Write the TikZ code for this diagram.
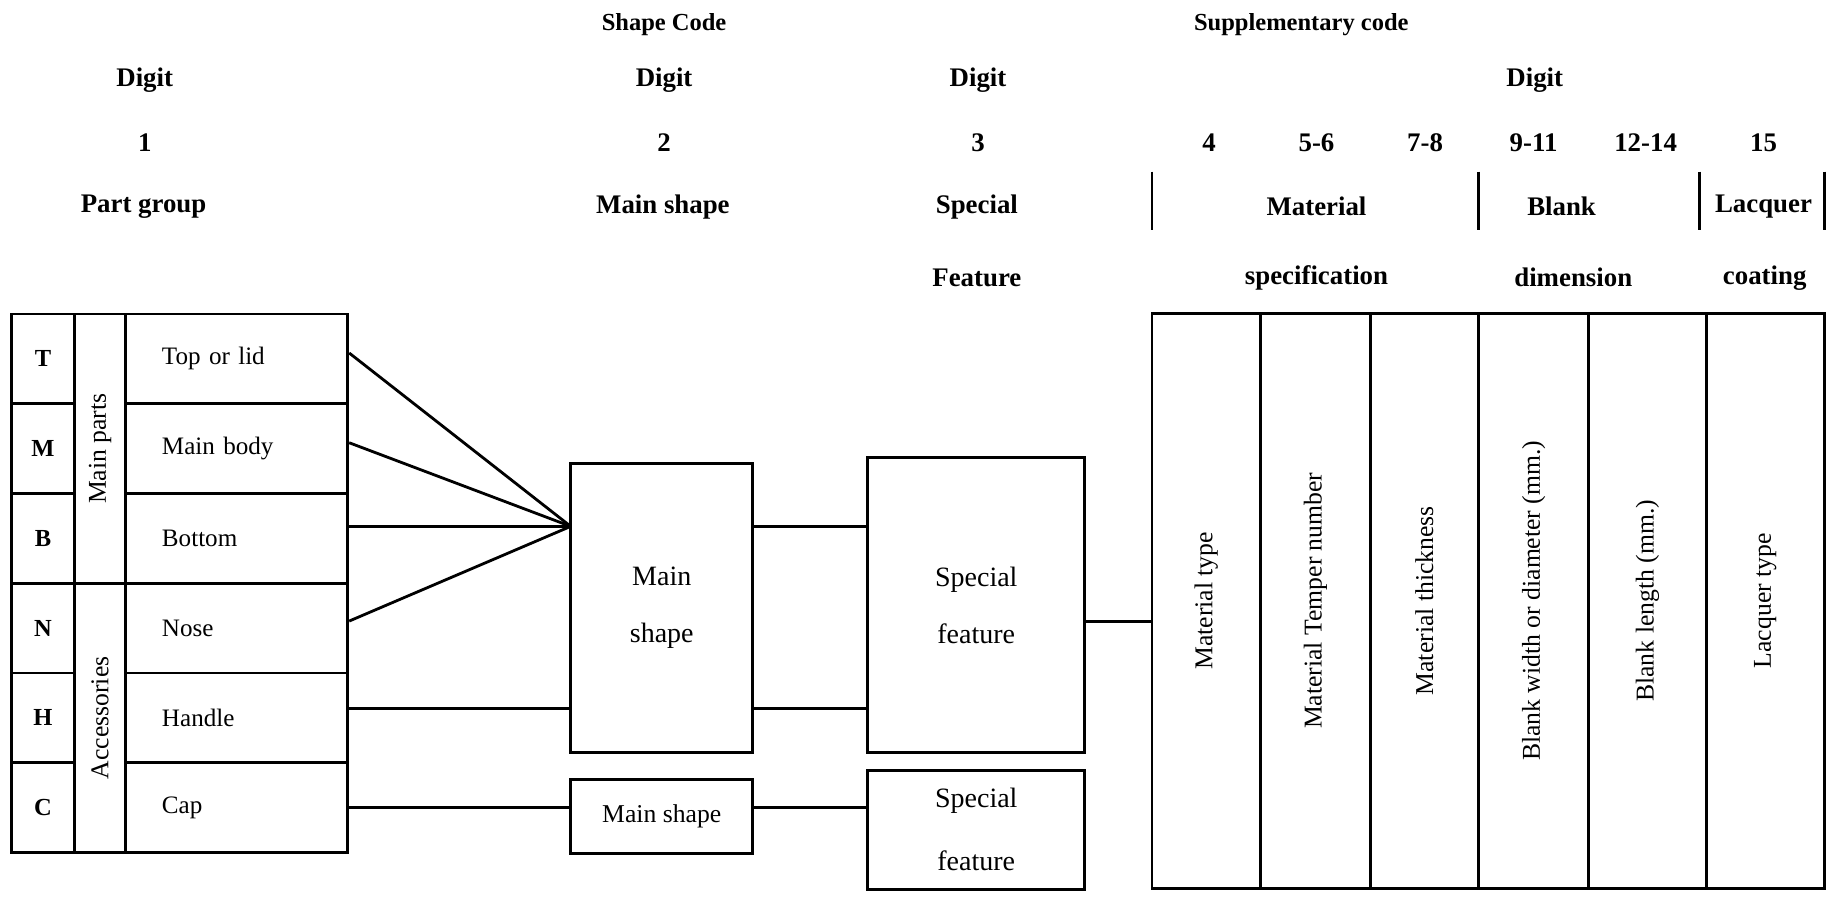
\documentclass[tikz,border=0pt]{standalone}
\usepackage{fontspec}
\setmainfont{Liberation Serif}
\usepackage{tikz}
\usetikzlibrary{positioning, calc}

\tikzset{
  frame/.style={draw, line width=2.4pt},
  link/.style={line width=2.4pt},
  hdr/.style={font=\bfseries\fontsize{23}{27}\selectfont, inner sep=0pt},
  subhdr/.style={font=\bfseries\fontsize{21}{25}\selectfont, inner sep=0pt},
  codecell/.style={frame, minimum width=53.7pt, minimum height=76.9pt, inner sep=0pt,
                   font=\bfseries\fontsize{21}{25}\selectfont},
  groupcell/.style={frame, rotate=90, minimum width=230.7pt, minimum height=44.1pt,
                    inner sep=0pt, font=\fontsize{22}{26}\selectfont},
  partcell/.style={frame, minimum width=190.2pt, minimum height=76.9pt, inner xsep=31pt,
                   inner ysep=0pt, text width=128.2pt, align=left, font=\fontsize{21.5}{25}\selectfont},
  shapebox/.style={frame, inner sep=0pt, align=center, font=\fontsize{24}{49}\selectfont},
  speccol/.style={frame, rotate=90, minimum width=492.5pt, inner sep=0pt,
                  font=\fontsize{22}{26}\selectfont},
}

\begin{document}
\begin{tikzpicture}[x=1pt, y=-1pt]
\useasboundingbox (0,0) rectangle (1568,768);

% headings
\node[subhdr] (shapecode) at (569,21) {Shape Code};
\node[subhdr] (suppcode) at (1115,21) {Supplementary code};
\foreach \x/\n in {124/1, 569/2, 838/3, 1315/4}
  \node[hdr] (digit\n) at (\x,69) {Digit};
\foreach \x/\n [count=\k] in {124/1, 569/2, 838/3, 1036/4, 1128/5-6, 1221/7-8, 1314/9-11, 1410/12-14, 1511/15}
  \node[hdr] (num\k) at (\x,122) {\n};
\node[hdr] (partgroup) at (123,177) {Part group};
\node[hdr] (mainhdr) at (568,177) {Main shape};
\node[hdr] (spechdr) at (837,177) {Special};
\node[hdr] (feathdr) at (837,238) {Feature};
\node[hdr] (mathdr) at (1128,177) {Material};
\node[hdr] (spechdr2) at (1128,238) {specification};
\node[hdr] (blankhdr) at (1338,177) {Blank};
\node[hdr] (dimhdr) at (1348,238) {dimension};
\node[hdr] (lacqhdr) at (1511,177) {Lacquer};
\node[hdr] (coathdr) at (1512,238) {coating};
\foreach \bx in {987,1267,1456,1563}
  \draw[link] (\bx,147) -- (\bx,197);

% part group table
\foreach \ltr/\txt [count=\i from 0] in {T/Top or lid, M/Main body, B/Bottom, N/Nose, H/Handle, C/Cap} {
  \node[codecell] (code-\ltr) at (36.85,{307.45+76.9*\i}) {\ltr};
  \node[partcell] (part-\ltr) at (202.9,{307.45+76.9*\i}) {\txt};
}
\node[groupcell] (mainparts) at (85.75,384.4) {Main parts};
\node[groupcell] (accessories) at (85.75,615.1) {Accessories};

% shape boxes
\node[shapebox, minimum width=156pt, minimum height=248pt] (mainbig) at (567,521) {Main\\shape};
\node[shapebox, minimum width=156pt, minimum height=63pt, font=\fontsize{22}{25}\selectfont]
  (mainsmall) at (567,699.5) {Main shape};
\node[shapebox, minimum width=186pt, minimum height=253pt] (specbig) at (836.5,518.5) {Special\\feature};
\node[shapebox, minimum width=186pt, minimum height=102pt, font=\fontsize{24}{54}\selectfont]
  (specsmall) at (836.5,711) {Special\\feature};

% supplementary columns
\foreach \xl/\xr/\txt [count=\k] in {987/1080/Material type, 1080/1174/Material Temper number,
    1174/1267/Material thickness, 1267/1361/Blank width or diameter (mm.),
    1361/1462/Blank length (mm.), 1462/1563/Lacquer type}
  \node[speccol, minimum height={(\xr-\xl)*1pt}] (col\k) at ({(\xl+\xr)/2},514.75) {\txt};

% connectors
\coordinate (apex) at (489,451);
\draw[link] ([yshift=5pt]part-T.east) -- (apex);
\draw[link] ([yshift=5pt]part-M.east) -- (apex);
\draw[link] (part-B.east |- apex) -- (apex);
\draw[link] ([yshift=6pt]part-N.east) -- (apex);
\draw[link] ([yshift=8pt]part-H.east) -- ([yshift=8pt]part-H.east -| mainbig.west);
\draw[link] (apex -| mainbig.east) -- (apex -| specbig.west);
\draw[link] ([yshift=8pt]part-H.east -| mainbig.east) -- ([yshift=8pt]part-H.east -| specbig.west);
\draw[link] (part-C.east) -- (part-C.east -| mainsmall.west);
\draw[link] (part-C.east -| mainsmall.east) -- (part-C.east -| specsmall.west);
% col1 is turned, so its north is the left side
\draw[link] ([yshift=-14pt]specbig.east) -- ([yshift=-14pt]specbig.east -| col1.north);
\end{tikzpicture}
\end{document}
